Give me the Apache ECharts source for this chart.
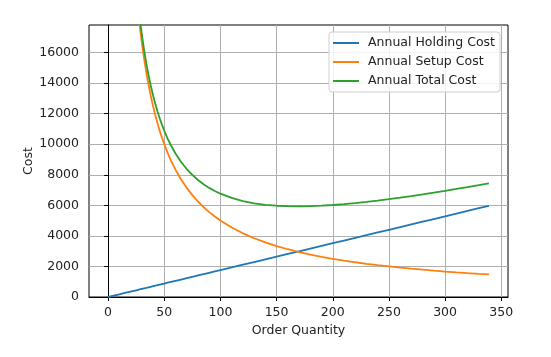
<!DOCTYPE html>
<html>
<head>
<meta charset="utf-8">
<script src="https://cdn.jsdelivr.net/npm/echarts@6/dist/echarts.min.js"></script>
<style>html,body{margin:0;padding:0;background:#fff}#c{width:551px;height:357px}</style>
</head>
<body>
<div id="c"></div>
<script>
var quantities = [0,10,15,20,22,24,26,28,30,32,34,36,38,40,42,44,46,48,50,53,56,60,65,70,75,80,85,90,95,100,110,120,130,140,150,160,170,180,190,200,210,220,230,240,250,260,270,280,290,300,310,320,330,339];
var holdingCost = [0,176,264,352,387,422,458,493,528,563,598,634,669,704,739,774,810,845,880,933,986,1056,1144,1232,1320,1408,1496,1584,1672,1760,1936,2112,2288,2464,2640,2816,2992,3168,3344,3520,3696,3872,4048,4224,4400,4576,4752,4928,5104,5280,5456,5632,5808,5966];
var setupCost = [null,50000,33333,25000,22727,20833,19231,17857,16667,15625,14706,13889,13158,12500,11905,11364,10870,10417,10000,9434,8929,8333,7692,7143,6667,6250,5882,5556,5263,5000,4545,4167,3846,3571,3333,3125,2941,2778,2632,2500,2381,2273,2174,2083,2000,1923,1852,1786,1724,1667,1613,1563,1515,1475];
var totalCost = [null,50176,33597,25352,23114,21256,19688,18350,17195,16188,15304,14522,13827,13204,12644,12138,11679,11261,10880,10367,9914,9389,8836,8375,7987,7658,7378,7140,6935,6760,6481,6279,6134,6035,5973,5941,5933,5946,5976,6020,6077,6145,6222,6307,6400,6499,6604,6714,6828,6947,7069,7195,7323,7441];
var xTicks = [0,50,100,150,200,250,300,350];
var yTicks = [0,2000,4000,6000,8000,10000,12000,14000,16000];
var seriesNames = ['Annual Holding Cost','Annual Setup Cost','Annual Total Cost'];
var colors = ['#1f77b4','#ff7f0e','#2ca02c'];

function pairs(vals){ return quantities.map(function(q,i){ return [q, vals[i]]; }); }
var font = 'DejaVu Sans';
var fs = 12.5;
var chart = echarts.init(document.getElementById('c'), null, {renderer:'canvas'});
chart.setOption({
  animation:false,
  backgroundColor:'#fff',
  color: colors,
  grid:{left:89,right:43,top:25,bottom:60,show:true,borderColor:'#000',borderWidth:1,backgroundColor:'transparent'},
  legend:{
    orient:'vertical', left:329, top:32, icon:'rect', itemWidth:26, itemHeight:2,
    itemGap:5, padding:[4,5,4,4], borderColor:'#d0d0d0', borderWidth:1, borderRadius:3,
    backgroundColor:'rgba(255,255,255,0.85)',
    textStyle:{fontFamily:font,fontSize:fs,color:'#222',lineHeight:14,padding:[0,0,0,4]},
    data: seriesNames
  },
  xAxis:{
    type:'value', min:-17, max:356, splitNumber:8, minInterval:50, maxInterval:50,
    name:'Order Quantity', nameLocation:'middle', nameGap:27, nameMoveOverlap:false,
    nameTextStyle:{fontFamily:font,fontSize:fs,color:'#222'},
    axisLine:{show:true,onZero:false,lineStyle:{color:'#000',width:1}},
    axisTick:{show:true,length:4,customValues:xTicks,lineStyle:{color:'#000'}},
    axisLabel:{fontFamily:font,fontSize:fs,color:'#222',margin:9,customValues:xTicks},
    splitLine:{show:true,lineStyle:{color:'#b0b0b0',width:1}}
  },
  yAxis:{
    type:'value', min:0, max:17800, interval:2000,
    name:'Cost', nameLocation:'middle', nameGap:54, nameMoveOverlap:false,
    nameTextStyle:{fontFamily:font,fontSize:fs,color:'#222'},
    axisLine:{show:true,lineStyle:{color:'#000',width:1}},
    axisTick:{show:true,length:4,customValues:yTicks,lineStyle:{color:'#000'}},
    axisLabel:{fontFamily:font,fontSize:fs,color:'#222',margin:10,customValues:yTicks,formatter:function(v){return String(v);}},
    splitLine:{show:true,lineStyle:{color:'#b0b0b0',width:1}}
  },
  series:[
    {name:seriesNames[0],type:'line',data:pairs(holdingCost),showSymbol:false,symbol:'none',lineStyle:{width:1.8},clip:true},
    {name:seriesNames[1],type:'line',data:pairs(setupCost),showSymbol:false,symbol:'none',lineStyle:{width:1.8},clip:true},
    {name:seriesNames[2],type:'line',data:pairs(totalCost),showSymbol:false,symbol:'none',lineStyle:{width:1.8},clip:true}
  ]
});
</script>
</body>
</html>
